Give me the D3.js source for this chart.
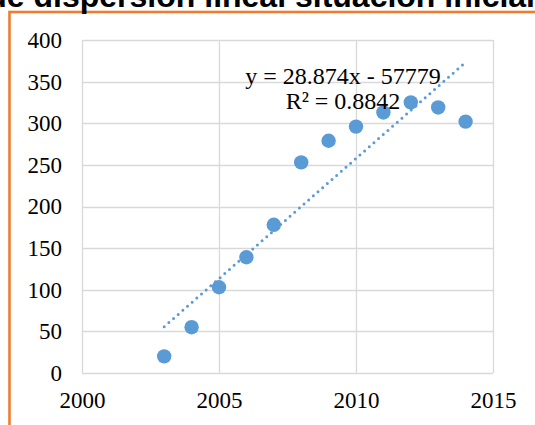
<!DOCTYPE html>
<html>
<head>
<meta charset="utf-8">
<script src="https://cdn.jsdelivr.net/npm/d3@7"></script>
<style>
  body { margin: 0; background: #fff; }
  svg { display: block; }
</style>
</head>
<body>
<div id="chart"></div>
<script>
// data
const years = [2003, 2004, 2005, 2006, 2007, 2008, 2009, 2010, 2011, 2012, 2013, 2014]
const values = [20, 55, 103, 139, 178, 253, 279, 296, 313, 325, 319, 302]
const xTicks = [2000, 2005, 2010, 2015]
const yTicks = [0, 50, 100, 150, 200, 250, 300, 350, 400]
const trendSlope = 28.874
const trendIntercept = -57779
const equationLines = ['y = 28.874x - 57779', 'R² = 0.8842']
const titleText = 'Diagrama de dispersión lineal situación inicial'

const width = 535
const height = 425
const margin = { top: 40, right: 42, bottom: 52, left: 82 }
const innerW = width - margin.left - margin.right
const innerH = height - margin.top - margin.bottom

const svg = d3.select('#chart').append('svg')
  .attr('width', width)
  .attr('height', height)

// chart area frame (orange, runs off the window)
svg.append('rect')
  .attr('x', 9.5)
  .attr('y', 12)
  .attr('width', 600)
  .attr('height', 500)
  .attr('fill', 'none')
  .attr('stroke', '#ED7D31')
  .attr('stroke-width', 2.6)

// title, clipped at top
svg.append('text')
  .attr('x', 535)
  .attr('y', 7)
  .attr('text-anchor', 'end')
  .attr('font-family', 'Liberation Sans, Arial, sans-serif')
  .attr('font-weight', 'bold')
  .attr('font-size', 32)
  .attr('fill', '#000')
  .text(titleText)

const g = svg.append('g')
  .attr('transform', 'translate(' + margin.left + ',' + margin.top + ')')

const x = d3.scaleLinear().domain([2000, 2015]).range([0, innerW])
const y = d3.scaleLinear().domain([0, 400]).range([innerH, 0])

// gridlines
g.append('g')
  .selectAll('line')
  .data(yTicks)
  .enter()
  .append('line')
  .attr('x1', 0)
  .attr('x2', innerW)
  .attr('y1', (d) => Math.round(y(d)) + 0.5)
  .attr('y2', (d) => Math.round(y(d)) + 0.5)
  .attr('stroke', '#d9d9d9')
  .attr('stroke-width', 1.3)

g.append('g')
  .selectAll('line')
  .data(xTicks)
  .enter()
  .append('line')
  .attr('y1', 0)
  .attr('y2', innerH)
  .attr('x1', (d) => Math.round(x(d)) + 0.5)
  .attr('x2', (d) => Math.round(x(d)) + 0.5)
  .attr('stroke', '#d9d9d9')
  .attr('stroke-width', 1.3)

// axis labels
const yAxis = d3.axisLeft(y).tickValues(yTicks).tickSize(0).tickPadding(20)
g.append('g')
  .attr('class', 'y axis')
  .call(yAxis)
  .call((s) => s.select('.domain').remove())

const xAxis = d3.axisBottom(x).tickValues(xTicks).tickSize(0).tickPadding(19).tickFormat(d3.format('d'))
g.append('g')
  .attr('class', 'x axis')
  .attr('transform', 'translate(0,' + innerH + ')')
  .call(xAxis)
  .call((s) => s.select('.domain').remove())

g.selectAll('.axis text')
  .attr('font-family', 'Liberation Serif, Times New Roman, serif')
  .attr('font-size', 23)
  .attr('fill', '#000')

// trendline
const trend = [years[0], years[years.length - 1]].map((yr) => [yr, trendSlope * yr + trendIntercept])
g.append('path')
  .datum(trend)
  .attr('d', d3.line().x((d) => x(d[0])).y((d) => y(d[1])))
  .attr('fill', 'none')
  .attr('stroke', '#5B9BD5')
  .attr('stroke-width', 3)
  .attr('stroke-linecap', 'round')
  .attr('stroke-dasharray', '0 6.2')

// points
g.append('g')
  .selectAll('circle')
  .data(years)
  .enter()
  .append('circle')
  .attr('cx', (d) => x(d))
  .attr('cy', (d, i) => y(values[i]))
  .attr('r', 7.2)
  .attr('fill', '#5B9BD5')

// equation label
const eq = svg.append('text')
  .attr('font-family', 'Liberation Serif, Times New Roman, serif')
  .attr('font-size', 24)
  .attr('fill', '#000')
  .attr('text-anchor', 'middle')
eq.selectAll('tspan')
  .data(equationLines)
  .enter()
  .append('tspan')
  .attr('x', 343)
  .attr('y', (d, i) => 84 + i * 25)
  .text((d) => d)
</script>
</body>
</html>
